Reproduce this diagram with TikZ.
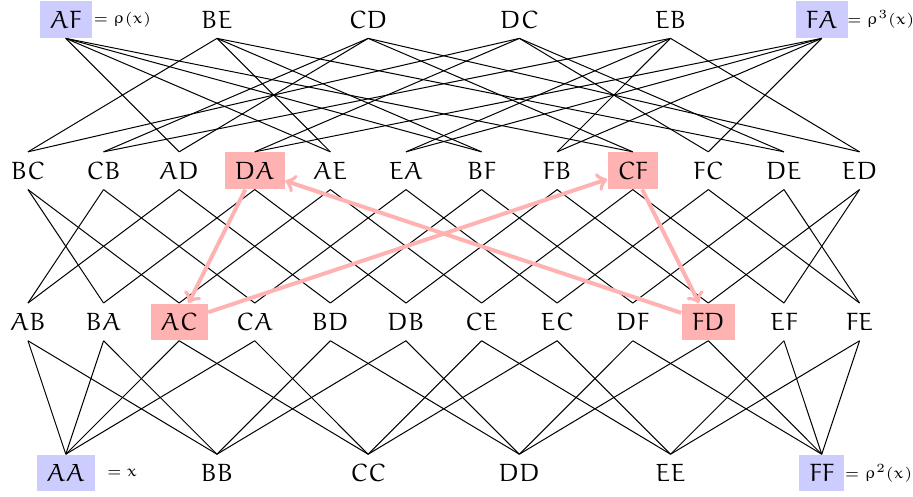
\documentclass[tikz,border=0pt]{standalone}
\usepackage{amsmath}
\usepackage{tikz}
\usetikzlibrary{positioning}
\DeclareFontFamily{U}{eulerroman}{\skewchar\font'177}
\DeclareFontShape{U}{eulerroman}{m}{n}{<-6> eurm5 <6-7> eurm6 <7-8> eurm7 <8-9> eurm8 <9-10> eurm9 <10-> eurm10}{}
\DeclareSymbolFont{letters}{U}{eulerroman}{m}{n}
\tikzstyle{word}=[
        inner xsep=4pt,
        inner ysep=0pt,
        minimum height=14.7pt
]
\tikzstyle{fixpoint}=[
        word,
        fill=blue!20
]
\tikzstyle{orbit}=[
        word,
        fill=red!30
]
\tikzstyle{orbitarrow}=[
        draw=red!30,
        ultra thick,
        ->
]
\tikzstyle{rholabel}=[
        font=\fontsize{6.5}{7}\selectfont,
        inner sep=0pt
]

\begin{document}
\begin{tikzpicture}[x=1.063cm,y=1.063cm]
                        \useasboundingbox (-0.370,-0.303) rectangle (11.707,6.258);

                        % distance 3
                        \foreach \w/\s [count=\i from 0] in {AF/fixpoint,BE/word,CD/word,DC/word,EB/word,FA/fixpoint} {
                            \node[\s] (\w) at (2*\i+0.5,6) {$\w$};
                        }
                        % distance 2
                        \foreach \w/\s [count=\i from 0] in {BC/word,CB/word,AD/word,DA/orbit,AE/word,EA/word,BF/word,FB/word,CF/orbit,FC/word,DE/word,ED/word} {
                            \node[\s] (\w) at (\i,4) {$\w$};
                        }
                        % distance 1
                        \foreach \w/\s [count=\i from 0] in {AB/word,BA/word,AC/orbit,CA/word,BD/word,DB/word,CE/word,EC/word,DF/word,FD/orbit,EF/word,FE/word} {
                            \node[\s] (\w) at (\i,2) {$\w$};
                        }
                        % distance 0
                        \foreach \w/\s [count=\i from 0] in {AA/fixpoint,BB/word,CC/word,DD/word,EE/word,FF/fixpoint} {
                            \node[\s] (\w) at (2*\i+0.5,0) {$\w$};
                        }

                        \node[rholabel, right=0.5pt of AF] (AFeq) {$=\rho(x)$};
                        \node[rholabel, right=-0.5pt of FA] (FAeq) {$=\rho^3(x)$};
                        \node[rholabel, right=4.5pt of AA] (AAeq) {$=x$};
                        \node[rholabel, right=0pt of FF] (FFeq) {$=\rho^2(x)$};

                        \foreach \a/\b in {AF/AD,AF/AE,AF/BF,AF/CF,BE/BC,BE/AE,BE/BF,BE/DE,
                                           CD/CB,CD/AD,CD/CF,CD/ED,DC/BC,DC/DA,DC/FC,DC/DE,
                                           EB/CB,EB/EA,EB/FB,EB/ED,FA/DA,FA/EA,FA/FB,FA/FC} {
                            \draw (\a.south) -- (\b.north);
                        }

                        \foreach \a/\b in {BC/BA,BC/AC,CB/AB,CB/CA,AD/AB,AD/BD,DA/BA,DA/DB,
                                           AE/AC,AE/CE,EA/CA,EA/EC,BF/BD,BF/DF,FB/DB,FB/FD,
                                           CF/CE,CF/EF,FC/EC,FC/FE,DE/DF,DE/FE,ED/FD,ED/EF} {
                            \draw (\a.south) -- (\b.north);
                        }

                        \foreach \a/\b in {AB/AA,BA/AA,AC/AA,CA/AA,AB/BB,BA/BB,BD/BB,DB/BB,
                                           AC/CC,CA/CC,CE/CC,EC/CC,BD/DD,DB/DD,DF/DD,FD/DD,
                                           CE/EE,EC/EE,EF/EE,FE/EE,DF/FF,FD/FF,EF/FF,FE/FF} {
                            \draw (\a.south) -- (\b.north);
                        }

                        \draw[orbitarrow] (DA) -- (AC);
                        \draw[orbitarrow] (AC) -- (CF);
                        \draw[orbitarrow] (CF) -- (FD);
                        \draw[orbitarrow] (FD) -- (DA);

                    \end{tikzpicture}
\end{document}
